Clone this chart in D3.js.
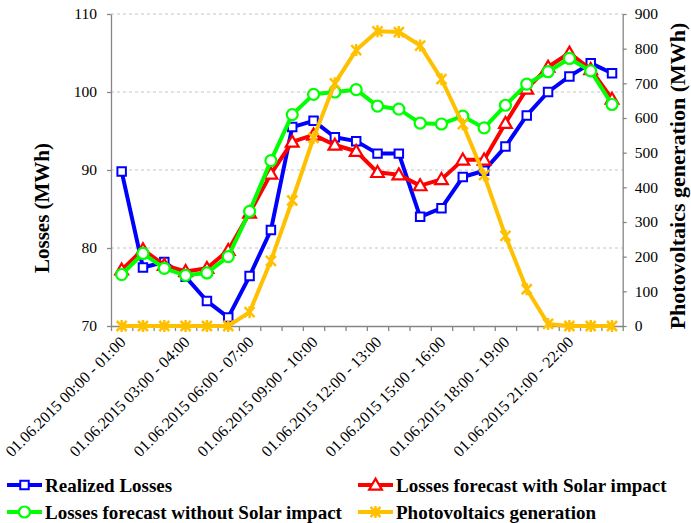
<!DOCTYPE html>
<html>
<head>
<meta charset="utf-8">
<script src="https://cdn.jsdelivr.net/npm/d3@7"></script>
<style>
  html, body { margin: 0; padding: 0; background: #fff; }
  svg { display: block; }
</style>
</head>
<body>
<svg id="chart" width="691" height="523"></svg>
<script>
// Hourly intervals of 01.06.2015
const hours = d3.range(24);
const tickLabelHours = [0, 3, 6, 9, 12, 15, 18, 21];

// Losses (MWh), left axis
const realizedLosses = [89.8, 77.5, 78.2, 76.3, 73.2, 71.1, 76.4, 82.3, 95.5, 96.3, 94.2, 93.7,
                        92.1, 92.1, 84.0, 85.1, 89.1, 89.9, 93.0, 97.0, 100.0, 102.0, 103.7, 102.4];
const forecastWithSolar = [77.2, 79.8, 77.8, 77.0, 77.4, 79.7, 84.5, 89.5, 93.6, 94.5, 93.2, 92.4,
                           89.7, 89.4, 88.0, 88.8, 91.3, 91.3, 96.0, 100.4, 103.2, 105.0, 102.9, 99.1];
const forecastWithoutSolar = [76.6, 79.3, 77.4, 76.5, 76.8, 78.9, 84.7, 91.2, 97.1, 99.7, 100.0, 100.3,
                              98.2, 97.8, 96.0, 95.9, 96.9, 95.4, 98.3, 101.0, 102.6, 104.3, 102.7, 98.4];
// Photovoltaics generation (MWh), right axis
const pvGeneration = [0, 0, 0, 0, 0, 0, 40, 188, 362, 543, 700, 796,
                      850, 848, 809, 712, 582, 435, 260, 106, 6, 0, 0, 0];

const leftTicks = [70, 80, 90, 100, 110];
const rightTicks = [0, 100, 200, 300, 400, 500, 600, 700, 800, 900];

const pad2 = n => String(n).padStart(2, "0");
const hourLabel = h => `01.06.2015 ${pad2(h)}:00 - ${pad2(h + 1)}:00`;

const series = [
  { name: "Realized Losses", values: realizedLosses, color: "#0000ff", marker: "square", axis: "left" },
  { name: "Losses forecast with Solar impact", values: forecastWithSolar, color: "#ff0000", marker: "triangle", axis: "left" },
  { name: "Losses forecast without Solar impact", values: forecastWithoutSolar, color: "#00ff00", marker: "circle", axis: "left" },
  { name: "Photovoltaics generation", values: pvGeneration, color: "#ffc000", marker: "star", axis: "right" }
];

const FONT = "'Liberation Serif', 'Times New Roman', serif";
const plot = { left: 111, right: 622.7, top: 14, bottom: 326 };
const axisGrey = "#868686";

const svg = d3.select("#chart");

const x = d3.scaleLinear().domain([0, 24]).range([plot.left, plot.right]);
const yL = d3.scaleLinear().domain([70, 110]).range([plot.bottom, plot.top]);
const yR = d3.scaleLinear().domain([0, 900]).range([plot.bottom, plot.top]);

// Dashed gridlines on the left-axis values
svg.append("g").selectAll("line")
  .data(leftTicks.slice(1))
  .join("line")
  .attr("x1", plot.left).attr("x2", plot.right)
  .attr("y1", d => yL(d)).attr("y2", d => yL(d))
  .attr("stroke", "#c4c4c4").attr("stroke-width", 1)
  .attr("stroke-dasharray", "3,3");

// Axes
function styleAxis(g) {
  g.selectAll("path.domain").attr("stroke", axisGrey).attr("stroke-width", 1.3);
  g.selectAll(".tick line").attr("stroke", axisGrey).attr("stroke-width", 1.3);
  g.selectAll(".tick text").attr("fill", "#000").attr("font-size", 15.5)
    .style("font-family", FONT);
}

svg.append("g")
  .attr("transform", `translate(${plot.left},0)`)
  .call(d3.axisLeft(yL).tickValues(leftTicks).tickSize(4).tickSizeOuter(0).tickPadding(10))
  .call(styleAxis);

svg.append("g")
  .attr("transform", `translate(${plot.right},0)`)
  .call(d3.axisRight(yR).tickValues(rightTicks).tickSize(4).tickSizeOuter(0).tickPadding(8))
  .call(styleAxis);

svg.append("g")
  .attr("transform", `translate(0,${plot.bottom})`)
  .call(d3.axisBottom(x).tickValues(d3.range(25)).tickFormat("").tickSize(5).tickSizeOuter(0))
  .call(styleAxis);

// Rotated category labels
svg.append("g").selectAll("text")
  .data(tickLabelHours)
  .join("text")
  .attr("transform", d => `translate(${x(d + 0.5) + 5},${plot.bottom + 17}) rotate(-45)`)
  .attr("text-anchor", "end")
  .attr("font-size", 16)
  .attr("fill", "#000")
  .style("font-family", FONT)
  .text(d => hourLabel(d));

// Axis titles
svg.append("text")
  .attr("transform", `translate(49,${(plot.top + plot.bottom) / 2 + 38}) rotate(-90)`)
  .attr("text-anchor", "middle")
  .attr("font-size", 21).attr("font-weight", "bold")
  .style("font-family", FONT)
  .text("Losses (MWh)");

svg.append("text")
  .attr("transform", `translate(685,${(plot.top + plot.bottom) / 2 + 6}) rotate(-90)`)
  .attr("text-anchor", "middle")
  .attr("font-size", 22).attr("font-weight", "bold")
  .style("font-family", FONT)
  .text("Photovoltaics generation (MWh)");

// Marker shapes
function drawMarker(sel, type, color, cx, cy) {
  if (type === "square") {
    sel.append("path").attr("d", d3.symbol(d3.symbolSquare, 72)())
      .attr("transform", `translate(${cx},${cy})`)
      .attr("fill", "#fff").attr("stroke", color).attr("stroke-width", 2);
  } else if (type === "triangle") {
    sel.append("path").attr("d", d3.symbol(d3.symbolTriangle, 70)())
      .attr("transform", `translate(${cx},${cy + 1})`)
      .attr("fill", "#fff").attr("stroke", color).attr("stroke-width", 2.2);
  } else if (type === "circle") {
    sel.append("circle").attr("cx", cx).attr("cy", cy).attr("r", 5.5)
      .attr("fill", "#fff").attr("stroke", color).attr("stroke-width", 2.2);
  } else {
    const r = 5;
    const p = d3.path();
    p.moveTo(cx - r, cy - r); p.lineTo(cx + r, cy + r);
    p.moveTo(cx - r, cy + r); p.lineTo(cx + r, cy - r);
    p.moveTo(cx, cy - r * 1.2); p.lineTo(cx, cy + r * 1.2);
    sel.append("path").attr("d", p.toString())
      .attr("fill", "none").attr("stroke", color).attr("stroke-width", 2.5);
  }
}

// Series lines and markers
const lineGen = scale => d3.line().x((d, i) => x(i + 0.5)).y(d => scale(d));

series.forEach(s => {
  const scale = s.axis === "left" ? yL : yR;
  const g = svg.append("g");
  g.append("path")
    .attr("d", lineGen(scale)(s.values))
    .attr("fill", "none").attr("stroke", s.color)
    .attr("stroke-width", 4).attr("stroke-linejoin", "round");
  s.values.forEach((v, i) => drawMarker(g, s.marker, s.color, x(i + 0.5), scale(v)));
});

// Legend (two columns, two rows)
const legendPos = [
  { lx: 7, ly: 485 }, { lx: 358, ly: 485 },
  { lx: 7, ly: 512 }, { lx: 358, ly: 512 }
];
series.forEach((s, i) => {
  const { lx, ly } = legendPos[i];
  const g = svg.append("g");
  g.append("line").attr("x1", lx).attr("x2", lx + 35).attr("y1", ly).attr("y2", ly)
    .attr("stroke", s.color).attr("stroke-width", 4);
  drawMarker(g, s.marker, s.color, lx + 17.5, ly);
  g.append("text").attr("x", lx + 38).attr("y", ly + 6.5)
    .attr("font-size", 19).attr("font-weight", "bold").attr("fill", "#000")
    .style("font-family", FONT)
    .text(s.name);
});
</script>
</body>
</html>
